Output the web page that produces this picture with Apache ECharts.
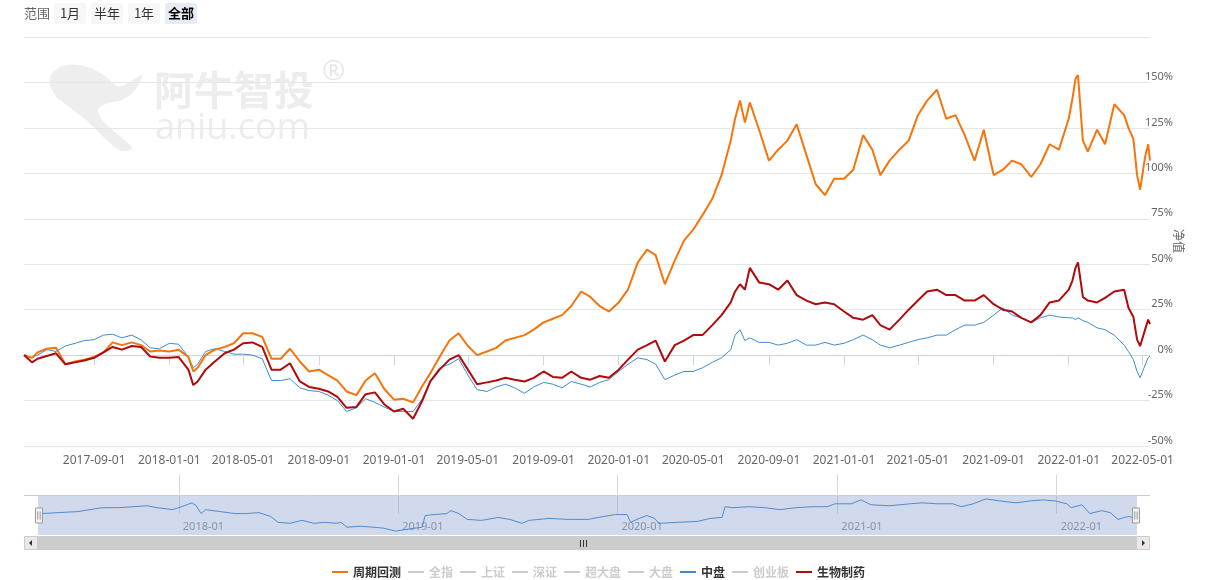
<!DOCTYPE html>
<html><head><meta charset="utf-8">
<script src="https://cdn.jsdelivr.net/npm/echarts@6/dist/echarts.min.js"></script>
<style>html,body{margin:0;padding:0;background:#fff}#c{width:1221px;height:580px}</style>
</head><body><div id="c"></div>
<script>
// ---------------- data ----------------
const dates = [
'2017-05-10','2017-05-23','2017-06-01','2017-06-16','2017-07-01','2017-07-16','2017-08-01','2017-08-16','2017-09-01','2017-09-16',
'2017-10-01','2017-10-16','2017-11-01','2017-11-16','2017-12-01','2017-12-16','2018-01-01','2018-01-16','2018-02-01','2018-02-09',
'2018-02-16','2018-03-01','2018-03-16','2018-04-01','2018-04-16','2018-05-01','2018-05-16','2018-06-01','2018-06-16','2018-07-01',
'2018-07-16','2018-08-01','2018-08-16','2018-09-01','2018-09-16','2018-10-01','2018-10-16','2018-11-01','2018-11-16','2018-12-01',
'2018-12-16','2019-01-01','2019-01-16','2019-02-01','2019-02-16','2019-03-01','2019-03-16','2019-04-01','2019-04-16','2019-05-01',
'2019-05-16','2019-06-01','2019-06-16','2019-07-01','2019-07-16','2019-08-01','2019-08-16','2019-09-01','2019-09-16','2019-10-01',
'2019-10-16','2019-11-01','2019-11-16','2019-12-01','2019-12-16','2020-01-01','2020-01-16','2020-02-01','2020-02-16','2020-03-01',
'2020-03-16','2020-04-01','2020-04-16','2020-05-01','2020-05-16','2020-06-01','2020-06-16','2020-07-01','2020-07-08','2020-07-16',
'2020-07-24','2020-08-01','2020-08-16','2020-09-01','2020-09-16','2020-10-01','2020-10-16','2020-11-01','2020-11-16','2020-12-01',
'2020-12-16','2021-01-01','2021-01-16','2021-02-01','2021-02-16','2021-03-01','2021-03-16','2021-04-01','2021-04-16','2021-05-01',
'2021-05-16','2021-06-01','2021-06-16','2021-07-01','2021-07-16','2021-08-01','2021-08-16','2021-09-01','2021-09-16','2021-10-01',
'2021-10-16','2021-11-01','2021-11-16','2021-12-01','2021-12-16','2022-01-01','2022-01-07','2022-01-12','2022-01-16','2022-01-24',
'2022-02-01','2022-02-16','2022-03-01','2022-03-16','2022-04-01','2022-04-08','2022-04-16','2022-04-22','2022-04-27','2022-05-05',
'2022-05-10','2022-05-13'
];
// 周期回测 (%)
const zhouqiHuice = [
0,-1.5,1.5,3.5,4,-5,-3.5,-2.5,-1,1.5,
7,5.5,7,5.5,2,2.5,2,3,-1,-9,
-7,0,3,4.5,6.5,12,12,10,-2,-2,
3.5,-3.5,-9,-8,-11,-14,-20,-22,-14,-10,
-18.5,-24.5,-24,-26,-17,-10,-1,8,12,5,
0,2,4,8,9.5,11,14,18,20,22,
27,35,32,27,24,29,36,51,58,55,
39,52,63,69,77,86,99,118,130,140,
128,139,124,107,113,118,127,110,94,88,
97,97,102,121,113,99,107,113,118,132,
140,146,130,132,121,107,124,99,102,107,
105,98,105,116,113,130,141,152,154,118,
112,124,116,138,132,125,119,99,91,109,
116,107
];
// 生物制药 (%)
const shengwuZhiyao = [
0,-4,-2,-0.5,1,-5,-4,-3,-1.5,1.5,
4.5,3,5,4.5,-0.8,-1.5,-1.5,-1,-8,-16.5,
-14.5,-8,-3.5,1,3,6.5,7,4.5,-8,-8,
-4.5,-14.5,-17.5,-18.5,-20,-23,-29,-28.5,-21.5,-20.5,
-27,-31,-29.5,-35,-25,-14.5,-8,-2.5,0,-8,
-16,-15,-14,-12.5,-13.5,-14.5,-12.5,-9,-12,-12.5,
-9,-12.5,-13.5,-11.5,-12.5,-8,-2.5,3,5.5,8,
-3.5,5.5,8,11,11,16.5,22,29,35,39,
36,48,40,39,36,41,33,30,28,29,
28,24,20.5,19.5,22,16.5,14,19.5,25,30,
35,36,33,33,30,30,33,28,25,24,
20.5,18,22,29,30,36,41,48,51,32,
30,29,31.5,35,36,26,21,8.5,5,14,
19.5,17
];
// 中盘 (%)
const zhongpan = [
0,-1.5,0,3,2,5,6.5,8,8.5,11,
11.5,9.5,11,8.5,4,3.5,6.5,6,-1,-7,
-5,2,3.5,2,0.5,0.5,0,-2,-14,-14,
-13,-18,-19.5,-20,-22,-25,-31,-29,-24,-26,
-28.5,-31,-31,-31,-24,-14,-7,-5,-2,-11,
-19,-20,-17.5,-16,-18,-21,-17.5,-15,-16,-18,
-14.5,-16,-17.5,-15,-13.5,-9,-5,-1.5,-2.5,-5,
-13.5,-11,-9,-9,-7,-4,-1.5,3,11,14,
8,9.5,7,7,5.5,6.5,8.5,5.5,5.5,7,
5.5,6.5,8.5,11,8.5,5.5,4,5.5,7,8.5,
9.5,11,11,14,16.5,16.5,18,22,26,22,
20.5,18,20.5,22,21,20.5,20.5,19.5,20.5,19,
18,15,14,11,5.5,2,-2.5,-9,-12.5,-5.5,
-1.5,-0.5
];
// navigator series (relative level)
const navDates = [
'2017-05-10','2017-05-17','2017-06-16','2017-07-17','2017-08-26','2017-09-22','2017-10-17','2017-11-09','2017-11-26','2017-12-22',
'2018-01-10','2018-01-23','2018-01-30','2018-02-07','2018-02-15','2018-03-11','2018-04-04','2018-04-24','2018-05-14','2018-06-03',
'2018-06-15','2018-07-05','2018-07-25','2018-08-14','2018-09-01','2018-09-21','2018-09-28','2018-10-08','2018-10-31','2018-11-20',
'2018-12-08','2018-12-28','2019-01-17','2019-02-10','2019-02-15','2019-03-03','2019-03-23','2019-03-30','2019-04-12','2019-04-26',
'2019-05-20','2019-06-16','2019-07-06','2019-07-26','2019-08-07','2019-09-09','2019-10-12','2019-11-13','2019-12-09','2019-12-29',
'2020-01-17','2020-01-23','2020-02-06','2020-02-19','2020-03-03','2020-03-10','2020-04-11','2020-05-14','2020-06-03','2020-06-23',
'2020-06-28','2020-07-11','2020-08-07','2020-09-02','2020-09-27','2020-10-24','2020-11-20','2020-12-15','2020-12-28','2021-01-24',
'2021-02-09','2021-02-26','2021-03-29','2021-05-02','2021-05-22','2021-06-16','2021-07-12','2021-07-26','2021-08-15','2021-09-05',
'2021-09-28','2021-10-25','2021-11-19','2021-12-09','2021-12-29','2022-01-18','2022-01-25','2022-02-12','2022-02-25','2022-03-17',
'2022-03-31','2022-04-13','2022-04-24','2022-05-01','2022-05-13'
];
const navValues = [
-1.5,0,1.5,3,9,9,10.5,12,9,6,
12,16.5,12,0,6,3,0,0,1.5,-4.5,
-13.5,-15,-10.5,-15,-13.5,-15,-13.5,-21,-19.5,-21,
-22.5,-27,-24,-21,-3,-1.5,0,4.5,0,-9,
-10.5,-6,-9,-15,-10.5,-7.5,-9,-9,-4.5,-1.5,
-1.5,-13.5,-7.5,-3,-7.5,-15,-13.5,-12,-7.5,-6,
10.5,9,10.5,9,6,9,10.5,10.5,15,15,
21,13.5,12,15,16.5,15,15,10.5,15,22.5,
19.5,16.5,19.5,21,19.5,15,9,13.5,0,4.5,
1.5,-9,-6,-4.5,-7.5
];
const xTickDates = ['2017-09-01','2018-01-01','2018-05-01','2018-09-01','2019-01-01','2019-05-01','2019-09-01','2020-01-01','2020-05-01','2020-09-01','2021-01-01','2021-05-01','2021-09-01','2022-01-01','2022-05-01'];
const navTickDates = ['2018-01-01','2019-01-01','2020-01-01','2021-01-01','2022-01-01'];
const legendNames = ['周期回测','全指','上证','深证','超大盘','大盘','中盘','创业板','生物制药'];
const hiddenNames = ['全指','上证','深证','超大盘','大盘','创业板'];
const rangeLabel = '范围';
const rangeButtons = ['1月','半年','1年','全部'];
const yAxisName = '净值';

// ---------------- helpers ----------------
function pd(s){ return echarts.number.parseDate(s).getTime(); }
function pad(n){ return n < 10 ? '0' + n : '' + n; }
function fmtDay(v){ const d = new Date(v); return d.getFullYear() + '-' + pad(d.getMonth()+1) + '-' + pad(d.getDate()); }
function fmtMonth(v){ const d = new Date(v); return d.getFullYear() + '-' + pad(d.getMonth()+1); }
function pairs(ds, vs){ return ds.map((d, i) => [pd(d), vs[i]]); }

const FONT = '"Noto Sans", "Noto Sans CJK SC", sans-serif';
const CJK = '"Noto Sans CJK SC", "Noto Sans", sans-serif';
const tMin = pd(dates[0]), tMax = pd(dates[dates.length - 1]);
const COLORS = { '周期回测': '#f6740b', '生物制药': '#b00a0a', '中盘': '#3d8bd4' };

const chart = echarts.init(document.getElementById('c'), null, { renderer: 'canvas', width: 1221, height: 580 });

const selected = {};
hiddenNames.forEach(n => selected[n] = false);

const series = [
  { name: '中盘', type: 'line', xAxisIndex: 0, yAxisIndex: 0, data: pairs(dates, zhongpan), showSymbol: false, color: COLORS['中盘'], lineStyle: { width: 1 }, z: 2 },
  { name: '周期回测', type: 'line', xAxisIndex: 0, yAxisIndex: 0, data: pairs(dates, zhouqiHuice), showSymbol: false, color: COLORS['周期回测'], lineStyle: { width: 2 }, z: 3 },
  { name: '生物制药', type: 'line', xAxisIndex: 0, yAxisIndex: 0, data: pairs(dates, shengwuZhiyao), showSymbol: false, color: COLORS['生物制药'], lineStyle: { width: 2 }, z: 4 }
];
hiddenNames.forEach(n => series.push({ name: n, type: 'line', xAxisIndex: 0, yAxisIndex: 0, data: [], showSymbol: false, color: '#cccccc' }));
series.push({ name: '导航', type: 'line', xAxisIndex: 1, yAxisIndex: 1, data: pairs(navDates, navValues), showSymbol: false, silent: true, color: '#4a8fd6', lineStyle: { width: 1 }, z: 2 });

// graphics
const graphics = [];
graphics.push({ type: 'polygon', z: -1, shape: { smooth: 0.35, points: [[50,78],[62,66],[85,66],[105,76],[118,86],[130,82],[142,75],[135,90],[122,100],[106,104],[98,110],[104,122],[132,148],[119,150],[86,120],[68,106],[54,94]] }, style: { fill: '#eeeeee' } });
graphics.push({ type: 'text', z: -1, x: 154, y: 70, style: { text: '阿牛智投', font: 'bold 40px ' + CJK, fill: '#ededed' } });
graphics.push({ type: 'text', z: -1, x: 322, y: 58, style: { text: '®', font: '28px ' + FONT, fill: '#e8e8e8' } });
graphics.push({ type: 'text', z: -1, x: 155, y: 111, style: { text: 'aniu.com', font: '36px "Open Sans", sans-serif', fill: '#ededed' } });
graphics.push({ type: 'text', x: 24, y: 13, style: { text: rangeLabel, font: '13px ' + CJK, fill: '#666666', verticalAlign: 'middle' } });
const btnX = [54, 91, 128, 165];
rangeButtons.forEach((b, i) => {
  const active = i === rangeButtons.length - 1;
  graphics.push({ type: 'rect', x: btnX[i], y: 3, shape: { width: 32, height: 21, r: 2 }, style: { fill: active ? '#e6ebf5' : '#f7f7f7' } });
  graphics.push({ type: 'text', x: btnX[i] + 16, y: 13.5, style: { text: b, font: (active ? 'bold ' : '') + '13px ' + CJK, fill: active ? '#000000' : '#333333', align: 'center', verticalAlign: 'middle' } });
});
// y-axis title (rotated, right of labels)
graphics.push({ type: 'text', x: 1179, y: 241, rotation: -Math.PI / 2, style: { text: yAxisName, font: '12px ' + CJK, fill: '#666666', align: 'center', verticalAlign: 'middle' } });
graphics.push({ type: 'line', shape: { x1: 24, y1: 495.5, x2: 1150, y2: 495.5 }, style: { stroke: '#cccccc', lineWidth: 1 } });
graphics.push({ type: 'rect', x: 24, y: 536, shape: { width: 1126, height: 14 }, style: { fill: '#f2f2f2' } });
graphics.push({ type: 'rect', x: 37, y: 536, shape: { width: 1099, height: 14 }, style: { fill: '#cccccc' } });
graphics.push({ type: 'rect', x: 24.5, y: 536.5, shape: { width: 13, height: 13 }, style: { fill: '#ebe7e8', stroke: '#cccccc', lineWidth: 1 } });
graphics.push({ type: 'rect', x: 1136.5, y: 536.5, shape: { width: 13, height: 13 }, style: { fill: '#ebe7e8', stroke: '#cccccc', lineWidth: 1 } });
graphics.push({ type: 'polygon', shape: { points: [[32, 540], [32, 546], [29, 543]] }, style: { fill: '#333333' } });
graphics.push({ type: 'polygon', shape: { points: [[1142, 540], [1142, 546], [1145, 543]] }, style: { fill: '#333333' } });
[580.5, 583.5, 586.5].forEach(x => graphics.push({ type: 'line', shape: { x1: x, y1: 540, x2: x, y2: 547 }, style: { stroke: '#333333', lineWidth: 1 } }));

const option = {
  animation: false,
  backgroundColor: '#ffffff',
  textStyle: { fontFamily: FONT },
  grid: [
    { left: 24, right: 71, top: 37, bottom: 134 },
    { left: 37, right: 85, top: 496, height: 39 }
  ],
  xAxis: [
    {
      type: 'value', gridIndex: 0, min: tMin, max: tMax,
      axisLine: { lineStyle: { color: '#ccd6eb', width: 1 } },
      axisTick: { show: true, length: 10, lineStyle: { color: '#ccd6eb' }, customValues: xTickDates.map(pd) },
      axisLabel: { customValues: xTickDates.map(pd), formatter: v => fmtDay(v), color: '#666666', fontSize: 12, margin: 9, fontFamily: FONT, hideOverlap: false },
      splitLine: { show: false }
    },
    {
      type: 'value', gridIndex: 1, min: tMin, max: tMax,
      axisLine: { show: false },
      axisTick: { show: true, inside: true, length: 39, lineStyle: { color: '#d8d8d8' }, customValues: navTickDates.map(pd) },
      axisLabel: { inside: true, customValues: navTickDates.map(pd), formatter: v => fmtMonth(v), color: '#999999', fontSize: 11, margin: 3, align: 'left', padding: [0, 0, 0, 4], fontFamily: FONT },
      splitLine: { show: false }
    }
  ],
  yAxis: [
    {
      type: 'value', gridIndex: 0, position: 'right', min: -50, max: 175, interval: 25,
      axisLine: { show: false }, axisTick: { show: false },
      splitLine: { lineStyle: { color: '#e6e6e6', width: 1 } },
      axisLabel: { formatter: v => v === 175 ? '' : v + '%', color: '#666666', fontSize: 11, align: 'right', margin: 23, verticalAlign: 'bottom', fontFamily: FONT }
    },
    { type: 'value', gridIndex: 1, min: -33, max: 27, show: false }
  ],
  legend: {
    data: legendNames, selected: selected, left: 327, top: 561,
    icon: 'rect', itemWidth: 16, itemHeight: 2, itemGap: 7,
    inactiveColor: '#cccccc',
    textStyle: { fontSize: 12, fontWeight: 'bold', color: '#333333', fontFamily: CJK }
  },
  dataZoom: [{
    type: 'slider', xAxisIndex: 0, left: 37, right: 85, top: 496, height: 39,
    start: 0, end: 100, showDetail: false, showDataShadow: false, brushSelect: false, moveHandleSize: 0,
    backgroundColor: 'rgba(0,0,0,0)', borderColor: 'rgba(0,0,0,0)',
    fillerColor: 'rgba(102,133,194,0.3)',
    handleIcon: 'path://M-3.5,-7.5 h7 v15 h-7 Z M-1.2,-4 v8 M1.2,-4 v8',
    handleSize: 15,
    handleStyle: { color: '#f2f2f2', borderColor: '#999999', borderWidth: 1 },
    emphasis: { handleStyle: { color: '#f2f2f2', borderColor: '#999999', borderWidth: 1 } }
  }],
  graphic: graphics,
  series: series
};
chart.setOption(option);
</script>
</body></html>
